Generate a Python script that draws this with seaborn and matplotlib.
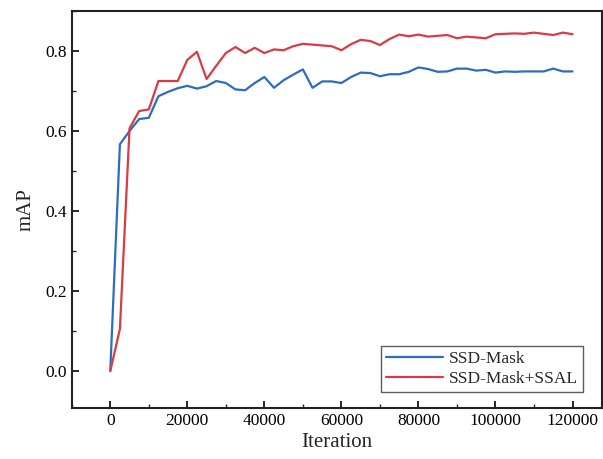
import numpy as np
import pandas as pd
import seaborn as sns
import matplotlib
matplotlib.use('Agg')
import matplotlib.pyplot as plt
from matplotlib.ticker import MultipleLocator

# iteration steps (every 2500)
iterations = list(range(0, 120001, 2500))

ssd_mask = [0.0, 0.567, 0.600, 0.630, 0.633, 0.687, 0.698, 0.707, 0.713, 0.706,
            0.712, 0.725, 0.720, 0.704, 0.702, 0.720, 0.735, 0.708, 0.727, 0.741,
            0.754, 0.708, 0.724, 0.724, 0.720, 0.735, 0.746, 0.745, 0.737, 0.742,
            0.742, 0.748, 0.759, 0.755, 0.748, 0.749, 0.756, 0.756, 0.751, 0.753,
            0.746, 0.749, 0.748, 0.749, 0.749, 0.749, 0.756, 0.749, 0.749]

ssd_mask_ssal = [0.0, 0.105, 0.607, 0.650, 0.654, 0.725, 0.725, 0.725, 0.778, 0.798,
                 0.730, 0.763, 0.795, 0.810, 0.795, 0.808, 0.795, 0.804, 0.802, 0.812,
                 0.818, 0.816, 0.814, 0.812, 0.802, 0.817, 0.828, 0.825, 0.815, 0.830,
                 0.841, 0.837, 0.841, 0.836, 0.838, 0.840, 0.832, 0.836, 0.834, 0.832,
                 0.842, 0.843, 0.844, 0.843, 0.846, 0.843, 0.840, 0.846, 0.842]

x_ticks = [0, 20000, 40000, 60000, 80000, 100000, 120000]
y_ticks = [0.0, 0.2, 0.4, 0.6, 0.8]

df = pd.DataFrame({
    'Iteration': iterations * 2,
    'mAP': ssd_mask + ssd_mask_ssal,
    'Model': ['SSD-Mask'] * len(iterations) + ['SSD-Mask+SSAL'] * len(iterations),
})

sns.set_style('ticks')
plt.rcParams['font.family'] = ['Liberation Serif', 'DejaVu Serif']

fig = plt.figure(figsize=(6.03, 4.59), dpi=100)
ax = fig.add_axes([0.119, 0.111, 0.879, 0.865])

sns.lineplot(data=df, x='Iteration', y='mAP', hue='Model',
             palette={'SSD-Mask': '#2b6cc4', 'SSD-Mask+SSAL': '#d93a44'},
             linewidth=1.6, ax=ax)

ax.set_xlim(-10000, 127600)
ax.set_ylim(-0.0925, 0.9)
ax.set_xticks(x_ticks)
ax.set_yticks(y_ticks)
ax.set_yticklabels([f'{v:.1f}' for v in y_ticks])
ax.xaxis.set_minor_locator(MultipleLocator(10000))
ax.yaxis.set_minor_locator(MultipleLocator(0.1))
ax.tick_params(axis='both', which='major', direction='in', length=5, width=1.2,
               labelsize=12.5, colors='black')
ax.tick_params(axis='both', which='minor', direction='in', length=3, width=1.0)
for s in ax.spines.values():
    s.set_visible(True)
    s.set_linewidth(1.5)
    s.set_color('#222222')

ax.set_xlabel('Iteration', fontsize=15, labelpad=3)
ax.set_ylabel('mAP', fontsize=15, labelpad=7)

leg = ax.legend(loc='lower right', bbox_to_anchor=(0.964, 0.04), borderaxespad=0,
                fontsize=12.5, frameon=True, fancybox=False, edgecolor='#333333',
                handlelength=3.3, borderpad=0.3, labelspacing=0.2, handletextpad=0.3)
leg.get_frame().set_linewidth(1.0)

fig.savefig('out.png', dpi=100)
